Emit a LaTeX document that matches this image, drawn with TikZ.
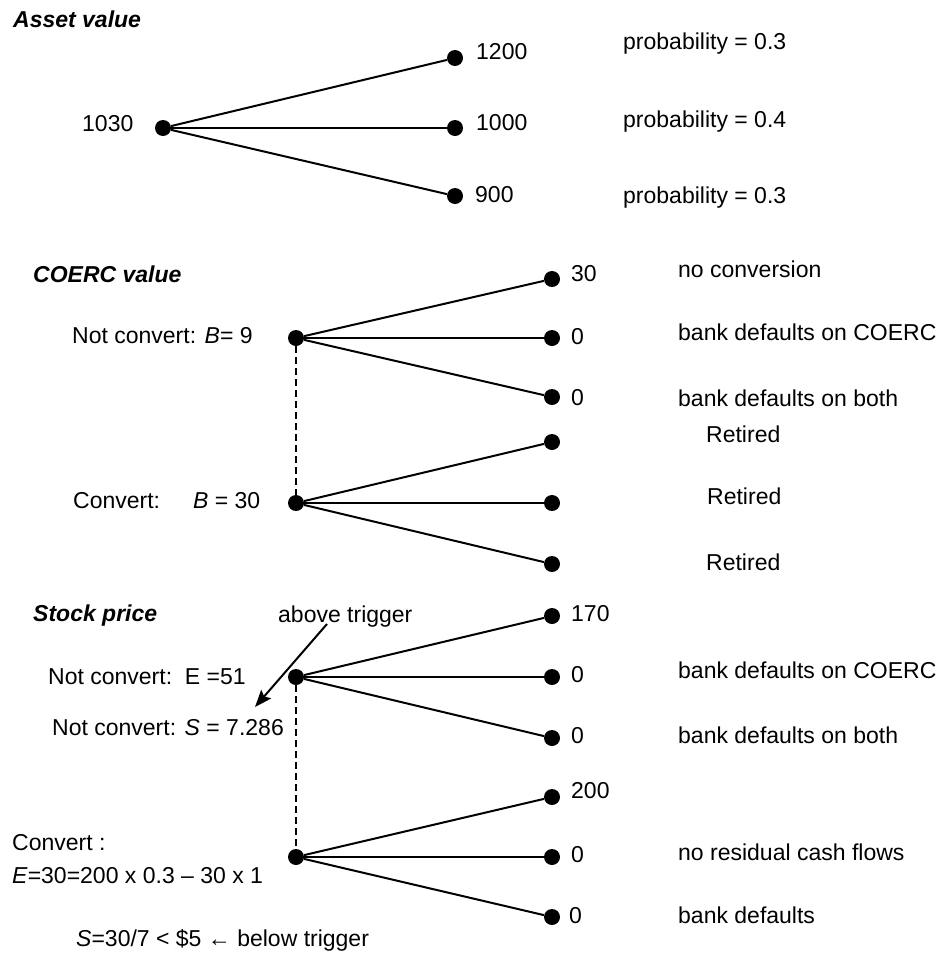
\documentclass[tikz,border=0pt]{standalone}
\usepackage{fontspec}
\setmainfont{Liberation Sans}
\usetikzlibrary{arrows.meta}
\begin{document}
\begin{tikzpicture}[x=1pt,y=-1pt,
  dot/.style={circle,fill=black,minimum size=16pt,inner sep=0pt},
  lbl/.style={anchor=base west,inner sep=0pt,font=\fontsize{23}{27}\selectfont},
  ttl/.style={anchor=base west,inner sep=0pt,font=\fontsize{23}{27}\selectfont\bfseries\itshape},
  br/.style={line width=2pt},
  dsh/.style={line width=2pt,dash pattern=on 7pt off 4pt},
  arr/.style={line width=2pt,-{Stealth[length=17pt,width=13pt,inset=3pt]}}]
\useasboundingbox (0,0) rectangle (943,959);

% ---------- Asset value ----------
\node[ttl] (tA) at (13,27) {Asset value};
\node[dot] (r0) at (163,128) {};
\node[dot] (a1) at (455,58) {};
\node[dot] (a2) at (455,128) {};
\node[dot] (a3) at (455,196) {};
\draw[br] (r0) -- (a1);
\draw[br] (r0) -- (a2);
\draw[br] (r0) -- (a3);
\node[lbl] (l1030) at (82,131) {1030};
\node[lbl] (l1200) at (476,59) {1200};
\node[lbl] (l1000) at (476,130) {1000};
\node[lbl] (l900) at (475,202) {900};
\node[lbl] (p1) at (623,49) {probability = 0.3};
\node[lbl] (p2) at (623,127) {probability = 0.4};
\node[lbl] (p3) at (623,203) {probability = 0.3};

% ---------- COERC value ----------
\node[ttl] (tC) at (33,282) {COERC value};
\node[dot] (c0) at (296,338) {};
\node[dot] (c1) at (552,279) {};
\node[dot] (c2) at (552,338) {};
\node[dot] (c3) at (552,397) {};
\node[dot] (d0) at (296,503) {};
\node[dot] (d1) at (552,442) {};
\node[dot] (d2) at (552,503) {};
\node[dot] (d3) at (552,564) {};
\draw[br] (c0) -- (c1);
\draw[br] (c0) -- (c2);
\draw[br] (c0) -- (c3);
\draw[br] (d0) -- (d1);
\draw[br] (d0) -- (d2);
\draw[br] (d0) -- (d3);
\draw[dsh] (c0) -- (d0);
\node[lbl] (cnl) at (72,343) {Not convert: \textit{B}= 9};
\node[lbl] (cvl) at (73,508) {Convert:\hspace*{33pt}\textit{B} = 30};
\node[lbl] (v30) at (571,281) {30};
\node[lbl] (v0a) at (571,344) {0};
\node[lbl] (v0b) at (571,405) {0};
\node[lbl] (e1) at (678,277) {no conversion};
\node[lbl] (e2) at (678,340) {bank defaults on COERC};
\node[lbl] (e3) at (678,406) {bank defaults on both};
\node[lbl] (rt1) at (706,442) {Retired};
\node[lbl] (rt2) at (707,504) {Retired};
\node[lbl] (rt3) at (706,570) {Retired};

% ---------- Stock price ----------
\node[ttl] (tS) at (33,621) {Stock price};
\node[lbl] (abv) at (278,622) {above trigger};
\node[dot] (s0) at (296,677) {};
\node[dot] (s1) at (552,616) {};
\node[dot] (s2) at (552,677) {};
\node[dot] (s3) at (552,738) {};
\node[dot] (t0) at (296,857) {};
\node[dot] (t1) at (552,797) {};
\node[dot] (t2) at (552,857) {};
\node[dot] (t3) at (552,917) {};
\draw[br] (s0) -- (s1);
\draw[br] (s0) -- (s2);
\draw[br] (s0) -- (s3);
\draw[br] (t0) -- (t1);
\draw[br] (t0) -- (t2);
\draw[br] (t0) -- (t3);
\draw[dsh] (s0) -- (t0);
\coordinate (arrS) at (327,624);
\coordinate (arrE) at (255,707);
\draw[arr] (arrS) -- (arrE);
\node[lbl] (snE) at (48,684) {Not convert:\ \ E =51};
\node[lbl] (snS) at (52,735) {Not convert: \textit{S} = 7.286};
\node[lbl] (v170) at (571,621) {170};
\node[lbl] (v0c) at (571,682) {0};
\node[lbl] (v0d) at (571,743) {0};
\node[lbl] (f1) at (678,678) {bank defaults on COERC};
\node[lbl] (f2) at (678,743) {bank defaults on both};
\node[lbl] (v200) at (571,798) {200};
\node[lbl] (v0e) at (571,862) {0};
\node[lbl] (v0f) at (569,923) {0};
\node[lbl] (g1) at (678,860) {no residual cash flows};
\node[lbl] (g2) at (678,923) {bank defaults};
\node[lbl] (cv1) at (12,850) {Convert :};
\node[lbl] (cv2) at (12,883) {\textit{E}=30=200 x 0.3 – 30 x 1};
\node[lbl] (cv3) at (76,946) {\textit{S}=30/7 < \$5 ← below trigger};
\end{tikzpicture}
\end{document}
